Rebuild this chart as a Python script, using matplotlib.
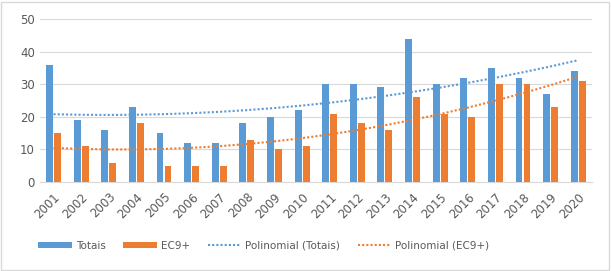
import matplotlib
matplotlib.use("Agg")
import matplotlib.pyplot as plt
import numpy as np
from matplotlib.patches import Rectangle

years = [str(y) for y in range(2001, 2021)]
totais = [36, 19, 16, 23, 15, 12, 12, 18, 20, 22, 30, 30, 29, 44, 30, 32, 35, 32, 27, 34]
ec9 = [15, 11, 6, 18, 5, 5, 5, 13, 10, 11, 21, 18, 16, 26, 21, 20, 30, 30, 23, 31]

blue = "#5B9BD5"
orange = "#ED7D31"
txt = "#595959"

fig = plt.figure(figsize=(6.11, 2.71), dpi=100)
ax = fig.add_axes([0.065, 0.328, 0.904, 0.602])

x = np.arange(len(years))
w = 0.25
b1 = ax.bar(x - w / 2 - 0.02, totais, w, color=blue, label="Totais", zorder=3)
b2 = ax.bar(x + w / 2 + 0.02, ec9, w, color=orange, label="EC9+", zorder=3)

xt = np.arange(1, len(years) + 1)
pt = np.polyfit(xt, totais, 2)
pe = np.polyfit(xt, ec9, 2)
l1, = ax.plot(x, np.polyval(pt, xt), linestyle=(0, (1, 1)), color=blue, lw=1.5,
              label="Polinomial (Totais)", zorder=4)
l2, = ax.plot(x, np.polyval(pe, xt), linestyle=(0, (1, 1)), color=orange, lw=1.5,
              label="Polinomial (EC9+)", zorder=4)

ax.set_xlim(-0.5, len(years) - 0.5)
ax.set_ylim(0, 50)
ax.set_yticks(range(0, 51, 10))
ax.set_xticks(x)
ax.set_xticklabels(years, rotation=45, ha="right", rotation_mode="anchor")
ax.tick_params(axis="both", length=0, colors=txt, labelsize=8.5)
ax.tick_params(axis="x", pad=6)
ax.yaxis.grid(True, color="#D9D9D9", lw=0.8, zorder=0)
for s in ["top", "right", "left"]:
    ax.spines[s].set_visible(False)
ax.spines["bottom"].set_color("#D9D9D9")

fig.legend([b1, b2, l1, l2], ["Totais", "EC9+", "Polinomial (Totais)", "Polinomial (EC9+)"],
           loc="center", bbox_to_anchor=(0.432, 0.093), ncol=4, frameon=False,
           fontsize=7.5, labelcolor=txt, handlelength=3.2, handleheight=0.6,
           columnspacing=1.7, handletextpad=0.4)

fig.patches.append(Rectangle((0.002, 0.004), 0.995, 0.99, transform=fig.transFigure,
                             fill=False, edgecolor="#D9D9D9", lw=1))

fig.savefig("out.png", dpi=100)
